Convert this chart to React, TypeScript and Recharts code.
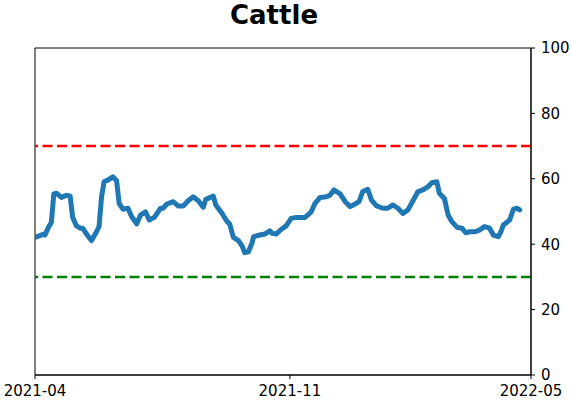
import { LineChart, Line, XAxis, YAxis, ReferenceLine, ReferenceArea } from "recharts";

// x positions are days since 2021-04
const days = [
  0, 7, 8, 11, 13, 15, 17, 21, 25, 28, 30, 33, 36, 38, 41, 45, 49, 51, 53, 55,
  58, 62, 65, 67, 70, 74, 77, 81, 84, 88, 91, 95, 100, 102, 105, 110, 114, 118,
  122, 126, 130, 134, 136, 142, 144, 149, 153, 155, 158, 162, 165, 167, 170,
  173, 174, 179, 183, 187, 189, 192, 196, 200, 204, 208, 215, 220, 223, 227,
  232, 235, 238, 243, 247, 251, 255, 258, 261, 265, 268, 272, 277, 281, 285,
  289, 293, 297, 301, 305, 309, 313, 316, 320, 322, 326, 329, 332, 336, 340,
  343, 346, 350, 354, 358, 362, 365, 369, 371, 373, 378, 381, 384, 386,
];

const values = [
  42.1, 43.1, 42.8, 45.4, 46.6, 55.4, 55.6, 54.3, 55.0, 54.7, 48.2, 45.6, 44.9,
  44.9, 43.1, 41.1, 43.8, 45.4, 54.5, 59.1, 59.6, 60.6, 59.4, 52.5, 50.7, 51.0,
  48.4, 46.2, 48.9, 49.9, 47.4, 48.2, 51.0, 51.0, 52.3, 53.0, 51.7, 51.7, 53.3,
  54.5, 53.3, 51.3, 53.7, 54.7, 52.0, 49.4, 46.9, 46.2, 42.1, 41.1, 39.4, 37.4,
  37.7, 40.5, 42.3, 42.8, 43.1, 44.1, 43.3, 43.1, 44.5, 45.6, 47.9, 48.2, 48.2,
  49.9, 52.5, 54.3, 54.5, 55.0, 56.6, 55.4, 53.0, 51.5, 52.3, 53.0, 56.1, 56.8,
  53.5, 51.7, 51.0, 51.0, 52.0, 51.0, 49.4, 50.5, 53.3, 56.1, 56.6, 57.6, 58.8,
  59.1, 55.6, 54.0, 48.9, 46.9, 45.2, 44.9, 43.5, 43.8, 43.8, 44.3, 45.4, 44.9,
  42.8, 42.3, 43.8, 45.9, 47.4, 50.7, 51.0, 50.5,
];

const xTicks = [0, 203, 395];
const xTickLabels = ["2021-04", "2021-11", "2022-05"];
const yTicks = [0, 20, 40, 60, 80, 100];
const upperBand = 70;
const lowerBand = 30;

const data = days.map((d, i) => ({ day: d, value: values[i] }));

const font = "DejaVu Sans, sans-serif";
const tickStyle = { fill: "#000", fontSize: 15, fontFamily: font };

export default function App() {
  return (
    <div style={{ position: "absolute", left: 0, top: 0, width: 571, height: 402, background: "#fff" }}>
      <LineChart
        width={571}
        height={402}
        data={data}
        margin={{ top: 48, right: 0, bottom: 0, left: 35 }}
      >
        <text
          x={274}
          y={24}
          textAnchor="middle"
          style={{ fontFamily: font, fontWeight: "bold", fontSize: 26, fill: "#000" }}
        >
          Cattle
        </text>
        <XAxis
          dataKey="day"
          type="number"
          domain={[0, 395]}
          ticks={xTicks}
          tickFormatter={(v: number) => xTickLabels[xTicks.indexOf(v)] ?? ""}
          height={27}
          tickSize={4}
          tickMargin={6}
          stroke="#000"
          tick={tickStyle}
          interval={0}
          allowDataOverflow
        />
        <YAxis
          orientation="right"
          type="number"
          domain={[0, 100]}
          ticks={yTicks}
          width={40}
          tickSize={4}
          tickMargin={6}
          stroke="#000"
          tick={{ ...tickStyle, textAnchor: "start" }}
          interval={0}
        />
        <ReferenceArea x1={0} x2={395} y1={0} y2={100} fill="none" stroke="#000" strokeWidth={1} ifOverflow="visible" />
        <ReferenceLine y={upperBand} stroke="#ff0000" strokeWidth={2.5} strokeDasharray="10 4.5" />
        <ReferenceLine y={lowerBand} stroke="#008000" strokeWidth={2.5} strokeDasharray="10 4.5" />
        <Line
          type="linear"
          dataKey="value"
          stroke="#1f77b4"
          strokeWidth={5}
          strokeLinejoin="round"
          strokeLinecap="round"
          dot={false}
          activeDot={false}
          isAnimationActive={false}
        />
      </LineChart>
    </div>
  );
}
